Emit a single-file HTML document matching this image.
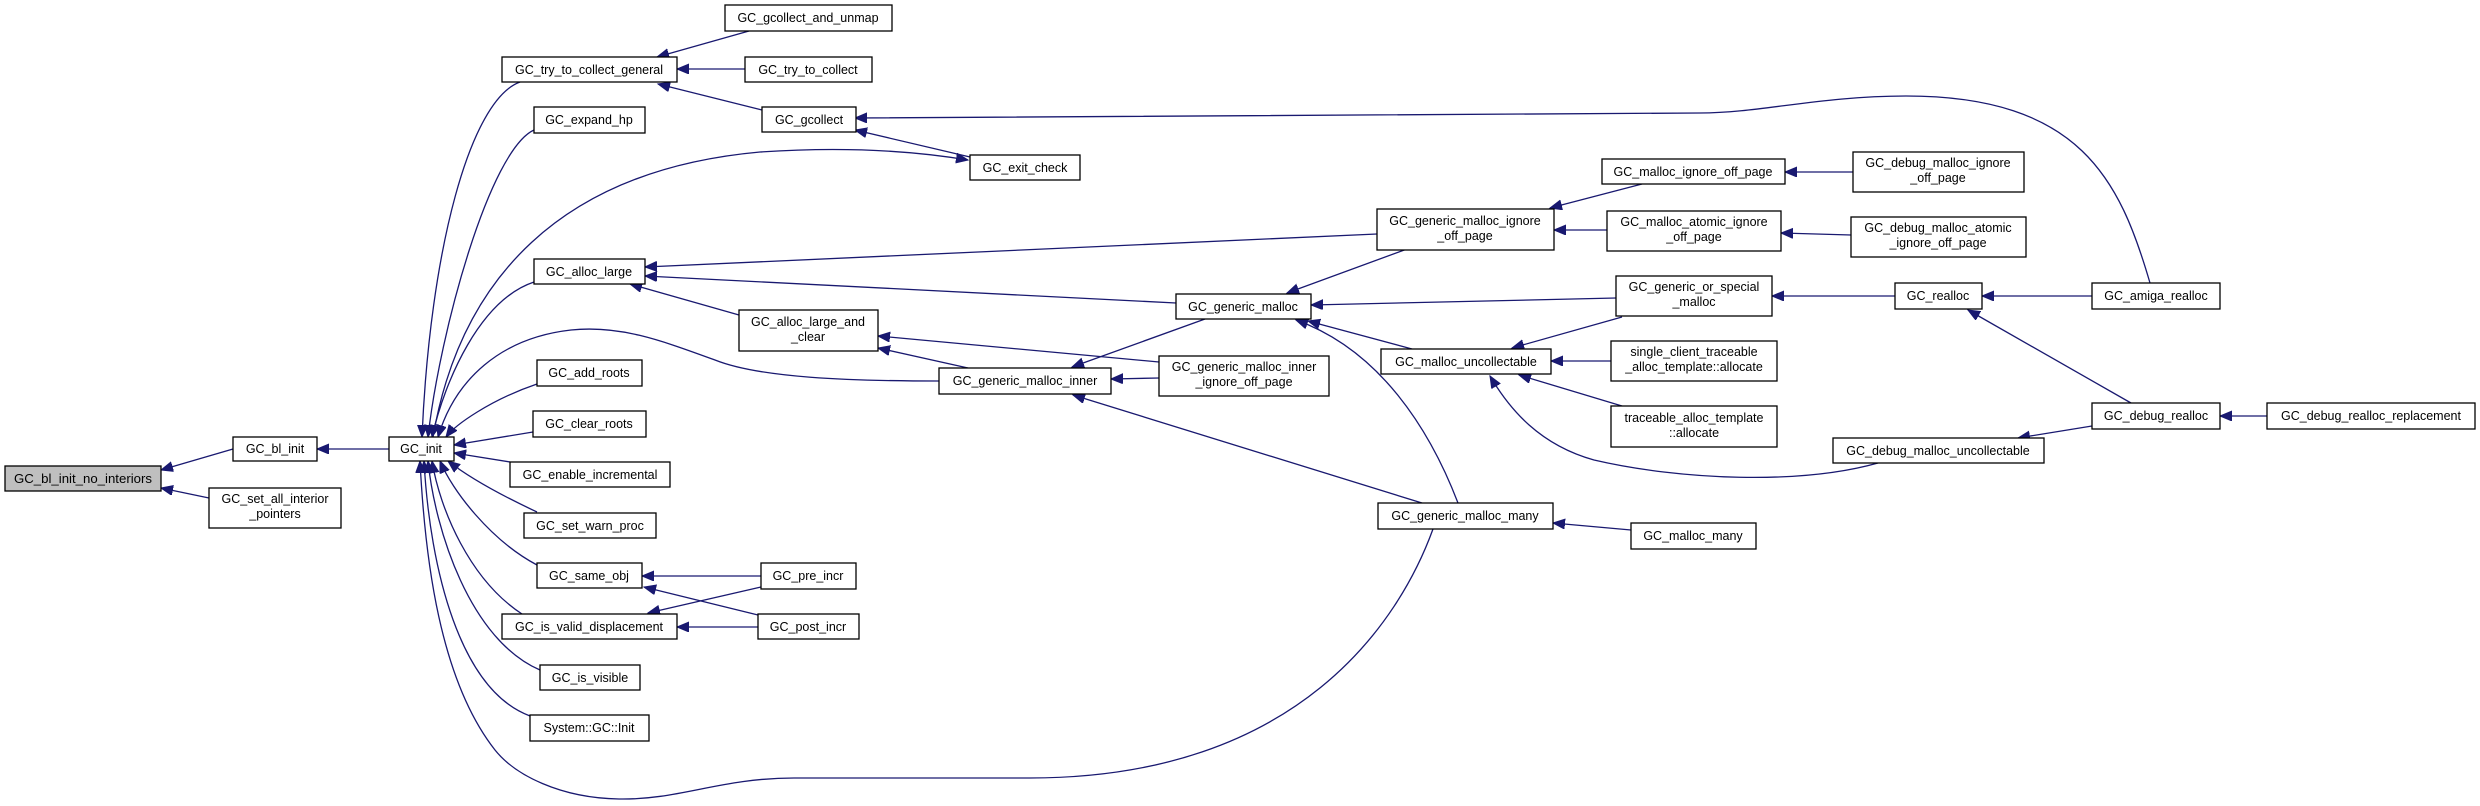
<!DOCTYPE html>
<html><head><meta charset="utf-8"><style>
html,body{margin:0;padding:0;background:#fff;}
svg{display:block;}
text{font-family:"Liberation Sans",Arial,sans-serif;font-size:12.5px;fill:#000;}
.n{fill:#fff;stroke:#000;stroke-width:1.3;}
.e{fill:none;stroke:#191970;stroke-width:1.3;}
</style></head><body>
<svg width="2480" height="806" viewBox="0 0 2480 806" xmlns="http://www.w3.org/2000/svg">
<defs>
<marker id="a" markerUnits="userSpaceOnUse" markerWidth="14" markerHeight="12" refX="12" refY="5" orient="auto">
<path d="M0,0 L12,5 L0,10 z" fill="#191970" stroke="#191970"/>
</marker>
</defs>
<g class="e" marker-end="url(#a)">
<path d="M233,449 L161,470"/>
<path d="M209,498 L161,488"/>
<path d="M389,449 L317,449"/>
<path d="M520,82 C470,100 430,250 422,437"/>
<path d="M534,130 C490,150 440,330 428,437"/>
<path d="M534,282 C480,300 445,380 432,437"/>
<path d="M939,381 C850,381 760,378 715,360 C660,340 620,325 571,330 C500,338 455,380 438,437"/>
<path d="M537,384 C490,400 455,425 446,437"/>
<path d="M533,432 L454,445"/>
<path d="M510,462 L454,453"/>
<path d="M537,512 C490,490 462,472 448,461"/>
<path d="M537,565 C490,540 452,490 440,461"/>
<path d="M522,614 C470,580 440,510 432,461"/>
<path d="M540,670 C470,640 435,530 428,461"/>
<path d="M530,716 C460,690 430,570 424,461"/>
<path d="M1433,529 C1400,620 1300,778 1030,778 L794,778 C720,778 680,800 619,799 C560,798 515,775 495,750 C440,680 425,560 420,461"/>
<path d="M433,437 C460,280 560,170 760,152 C850,146 920,152 968,160"/>
<path d="M749,31 L657,57"/>
<path d="M745,69 L677,69"/>
<path d="M762,110 L658,84"/>
<path d="M970,157 L855,130"/>
<path d="M2150,283 C2120,180 2080,96 1906,96 C1820,96 1760,113 1700,113 L855,118"/>
<path d="M1377,234 L645,267"/>
<path d="M1176,303 L645,276"/>
<path d="M739,315 L630,284"/>
<path d="M968,368 L878,348"/>
<path d="M1159,362 L878,336"/>
<path d="M1159,378 L1111,379"/>
<path d="M1205,319 L1072,367"/>
<path d="M1422,503 L1073,395"/>
<path d="M1407,249 L1287,293"/>
<path d="M1616,298 L1311,305"/>
<path d="M1412,349 L1308,321"/>
<path d="M1458,503 C1430,430 1380,350 1296,320"/>
<path d="M1642,184 L1550,208"/>
<path d="M1607,230 L1554,230"/>
<path d="M1853,172 L1785,172"/>
<path d="M1851,235 L1781,233"/>
<path d="M1622,317 L1512,348"/>
<path d="M1611,361 L1551,361"/>
<path d="M1622,406 L1519,375"/>
<path d="M1878,463 C1800,485 1680,480 1594,460 C1540,445 1510,410 1490,376"/>
<path d="M1895,296 L1772,296"/>
<path d="M2092,296 L1982,296"/>
<path d="M2131,403 L1968,310"/>
<path d="M2092,426 L2018,438"/>
<path d="M2267,416 L2220,416"/>
<path d="M1631,530 L1553,523"/>
<path d="M761,576 L642,576"/>
<path d="M761,587 L648,613"/>
<path d="M758,615 L644,587"/>
<path d="M758,627 L677,627"/>
</g>
<g>
<rect x="5" y="466" width="156" height="25" fill="#bfbfbf" stroke="#000" stroke-width="1.3"/>
<text x="83" y="483" text-anchor="middle" textLength="138" lengthAdjust="spacingAndGlyphs">GC_bl_init_no_interiors</text>

<rect class="n" x="233" y="437" width="84" height="24"/>
<text x="275" y="453" text-anchor="middle">GC_bl_init</text>

<rect class="n" x="209" y="488" width="132" height="40"/>
<text x="275" y="503" text-anchor="middle">GC_set_all_interior</text>
<text x="275" y="518" text-anchor="middle">_pointers</text>

<rect class="n" x="389" y="437" width="65" height="24"/>
<text x="421" y="453" text-anchor="middle">GC_init</text>

<rect class="n" x="502" y="57" width="175" height="25"/>
<text x="589" y="74" text-anchor="middle">GC_try_to_collect_general</text>
<rect class="n" x="534" y="107" width="111" height="26"/>
<text x="589" y="124" text-anchor="middle">GC_expand_hp</text>
<rect class="n" x="534" y="259" width="111" height="25"/>
<text x="589" y="276" text-anchor="middle">GC_alloc_large</text>
<rect class="n" x="537" y="360" width="105" height="26"/>
<text x="589" y="377" text-anchor="middle">GC_add_roots</text>
<rect class="n" x="533" y="411" width="113" height="26"/>
<text x="589" y="428" text-anchor="middle">GC_clear_roots</text>
<rect class="n" x="510" y="462" width="160" height="25"/>
<text x="590" y="479" text-anchor="middle">GC_enable_incremental</text>
<rect class="n" x="524" y="513" width="132" height="25"/>
<text x="590" y="530" text-anchor="middle">GC_set_warn_proc</text>
<rect class="n" x="537" y="563" width="105" height="25"/>
<text x="589" y="580" text-anchor="middle">GC_same_obj</text>
<rect class="n" x="502" y="614" width="175" height="25"/>
<text x="589" y="631" text-anchor="middle">GC_is_valid_displacement</text>
<rect class="n" x="540" y="665" width="100" height="25"/>
<text x="590" y="682" text-anchor="middle">GC_is_visible</text>
<rect class="n" x="530" y="715" width="119" height="26"/>
<text x="589" y="732" text-anchor="middle">System::GC::Init</text>

<rect class="n" x="725" y="5" width="167" height="26"/>
<text x="808" y="22" text-anchor="middle">GC_gcollect_and_unmap</text>
<rect class="n" x="745" y="57" width="127" height="25"/>
<text x="808" y="74" text-anchor="middle">GC_try_to_collect</text>
<rect class="n" x="762" y="107" width="94" height="25"/>
<text x="809" y="124" text-anchor="middle">GC_gcollect</text>
<rect class="n" x="970" y="155" width="110" height="25"/>
<text x="1025" y="172" text-anchor="middle">GC_exit_check</text>

<rect class="n" x="739" y="310" width="139" height="41"/>
<text x="808" y="326" text-anchor="middle">GC_alloc_large_and</text>
<text x="808" y="341" text-anchor="middle">_clear</text>
<rect class="n" x="761" y="563" width="95" height="26"/>
<text x="808" y="580" text-anchor="middle">GC_pre_incr</text>
<rect class="n" x="758" y="614" width="101" height="25"/>
<text x="808" y="631" text-anchor="middle">GC_post_incr</text>

<rect class="n" x="939" y="368" width="172" height="26"/>
<text x="1025" y="385" text-anchor="middle">GC_generic_malloc_inner</text>
<rect class="n" x="1176" y="294" width="135" height="25"/>
<text x="1243" y="311" text-anchor="middle">GC_generic_malloc</text>
<rect class="n" x="1159" y="356" width="170" height="40"/>
<text x="1244" y="371" text-anchor="middle">GC_generic_malloc_inner</text>
<text x="1244" y="386" text-anchor="middle">_ignore_off_page</text>

<rect class="n" x="1377" y="209" width="177" height="41"/>
<text x="1465" y="225" text-anchor="middle">GC_generic_malloc_ignore</text>
<text x="1465" y="240" text-anchor="middle">_off_page</text>
<rect class="n" x="1381" y="349" width="170" height="25"/>
<text x="1466" y="366" text-anchor="middle">GC_malloc_uncollectable</text>
<rect class="n" x="1378" y="503" width="175" height="26"/>
<text x="1465" y="520" text-anchor="middle">GC_generic_malloc_many</text>

<rect class="n" x="1602" y="159" width="183" height="25"/>
<text x="1693" y="176" text-anchor="middle">GC_malloc_ignore_off_page</text>
<rect class="n" x="1607" y="211" width="174" height="40"/>
<text x="1694" y="226" text-anchor="middle">GC_malloc_atomic_ignore</text>
<text x="1694" y="241" text-anchor="middle">_off_page</text>
<rect class="n" x="1616" y="276" width="156" height="40"/>
<text x="1694" y="291" text-anchor="middle">GC_generic_or_special</text>
<text x="1694" y="306" text-anchor="middle">_malloc</text>
<rect class="n" x="1611" y="341" width="166" height="40"/>
<text x="1694" y="356" text-anchor="middle">single_client_traceable</text>
<text x="1694" y="371" text-anchor="middle">_alloc_template::allocate</text>
<rect class="n" x="1611" y="406" width="166" height="41"/>
<text x="1694" y="422" text-anchor="middle">traceable_alloc_template</text>
<text x="1694" y="437" text-anchor="middle">::allocate</text>
<rect class="n" x="1631" y="523" width="125" height="26"/>
<text x="1693" y="540" text-anchor="middle">GC_malloc_many</text>

<rect class="n" x="1853" y="152" width="171" height="40"/>
<text x="1938" y="167" text-anchor="middle">GC_debug_malloc_ignore</text>
<text x="1938" y="182" text-anchor="middle">_off_page</text>
<rect class="n" x="1851" y="217" width="175" height="40"/>
<text x="1938" y="232" text-anchor="middle">GC_debug_malloc_atomic</text>
<text x="1938" y="247" text-anchor="middle">_ignore_off_page</text>
<rect class="n" x="1895" y="283" width="87" height="26"/>
<text x="1938" y="300" text-anchor="middle">GC_realloc</text>
<rect class="n" x="1833" y="438" width="211" height="25"/>
<text x="1938" y="455" text-anchor="middle">GC_debug_malloc_uncollectable</text>

<rect class="n" x="2092" y="283" width="128" height="26"/>
<text x="2156" y="300" text-anchor="middle">GC_amiga_realloc</text>
<rect class="n" x="2092" y="403" width="128" height="26"/>
<text x="2156" y="420" text-anchor="middle">GC_debug_realloc</text>
<rect class="n" x="2267" y="403" width="208" height="26"/>
<text x="2371" y="420" text-anchor="middle">GC_debug_realloc_replacement</text>
</g>
</svg>
</body></html>
